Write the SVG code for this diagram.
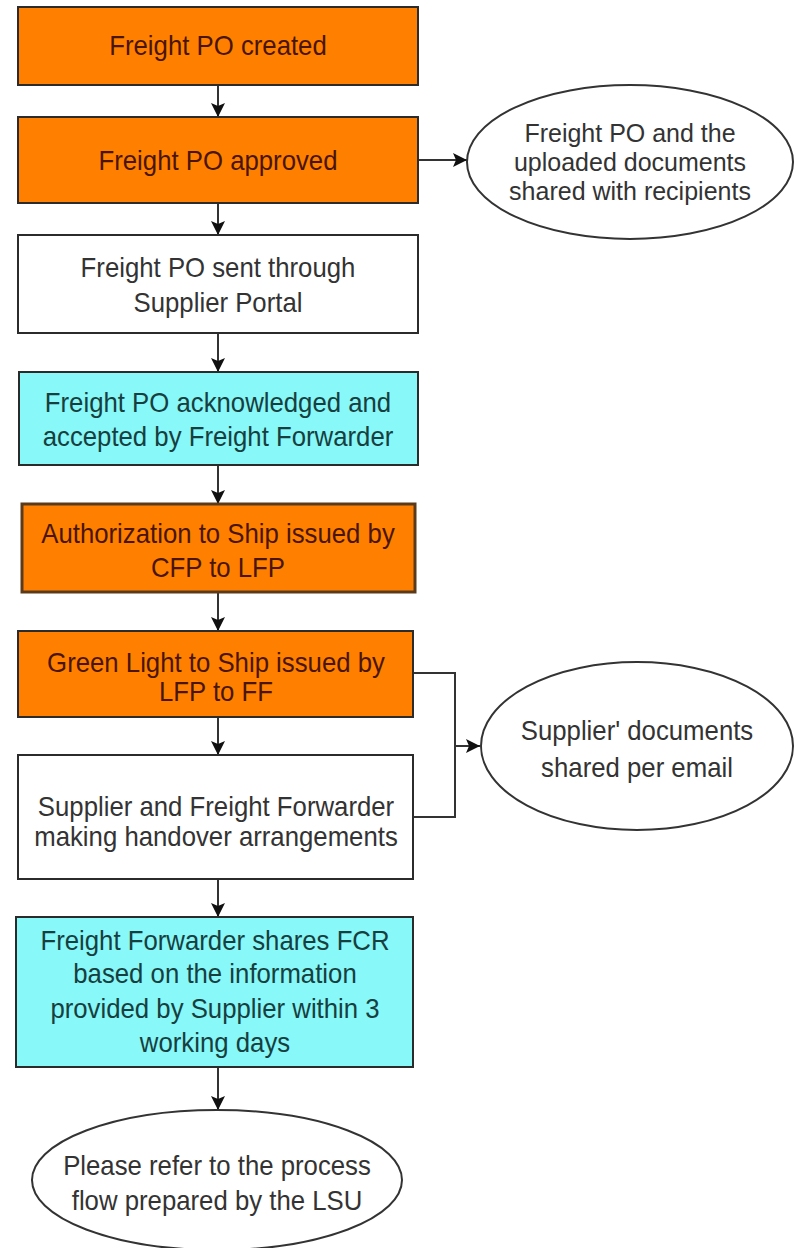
<svg xmlns="http://www.w3.org/2000/svg" width="794" height="1248" viewBox="0 0 794 1248">
  <style>
    .box { stroke: #2b2b2b; stroke-width: 2; }
    .orange { fill: #ff8000; }
    .cyan { fill: #88f8f8; }
    .white { fill: #ffffff; }
    .oval { fill: #ffffff; stroke: #333333; stroke-width: 2; }
    .lbl { font-family: "Liberation Sans", Arial, sans-serif; font-size: 28px; text-anchor: middle; }
    .sm { font-size: 25px; }
    .t-or { fill: #4a1500; }
    .t-cy { fill: #173f3f; }
    .t-wh { fill: #333333; }
    .edge { fill: none; stroke: #333333; stroke-width: 2; }
  </style>
  <defs>
    <marker id="head" viewBox="0 0 14 14" refX="14" refY="7" markerWidth="14" markerHeight="14" markerUnits="userSpaceOnUse" orient="auto">
      <path d="M0,0 L14,7 L0,14 L3,7 z" fill="#111111"/>
    </marker>
  </defs>
  <rect width="794" height="1248" fill="#ffffff"/>

  <!-- connectors -->
  <g id="connectors">
    <path class="edge" d="M218,85 V117" marker-end="url(#head)"/>
    <path class="edge" d="M218,203 V235" marker-end="url(#head)"/>
    <path class="edge" d="M418,160 H467" marker-end="url(#head)"/>
    <path class="edge" d="M218,333 V372" marker-end="url(#head)"/>
    <path class="edge" d="M218,465 V504" marker-end="url(#head)"/>
    <path class="edge" d="M218,592 V631" marker-end="url(#head)"/>
    <path class="edge" d="M218,717 V755" marker-end="url(#head)"/>
    <path class="edge" d="M218,879 V917" marker-end="url(#head)"/>
    <path class="edge" d="M218,1067 V1110" marker-end="url(#head)"/>
    <!-- two steps feeding the document-sharing note -->
    <path class="edge" d="M413,673 H455 V817 H413"/>
    <path class="edge" d="M455,746 H480" marker-end="url(#head)"/>
  </g>

  <g id="po-created">
    <rect class="box orange" x="18" y="7" width="400" height="78"/>
    <g transform="translate(218 0) scale(0.92 1)">
      <text class="lbl t-or" x="0" y="55">Freight PO created</text>
    </g>
  </g>

  <g id="po-approved">
    <rect class="box orange" x="18" y="117" width="400" height="86"/>
    <g transform="translate(218 0) scale(0.92 1)">
      <text class="lbl t-or" x="0" y="170">Freight PO approved</text>
    </g>
  </g>

  <g id="docs-shared">
    <ellipse class="oval" cx="630" cy="162" rx="163" ry="77"/>
    <text class="lbl sm t-wh" x="630" y="142">Freight PO and the</text>
    <text class="lbl sm t-wh" x="630" y="171">uploaded documents</text>
    <text class="lbl sm t-wh" x="630" y="200">shared with recipients</text>
  </g>

  <g id="po-sent">
    <rect class="box white" x="18" y="235" width="400" height="98"/>
    <g transform="translate(218 0) scale(0.92 1)">
      <text class="lbl t-wh" x="0" y="277">Freight PO sent through</text>
      <text class="lbl t-wh" x="0" y="312">Supplier Portal</text>
    </g>
  </g>

  <g id="po-acknowledged">
    <rect class="box cyan" x="19" y="372" width="399" height="93"/>
    <g transform="translate(218 0) scale(0.92 1)">
      <text class="lbl t-cy" x="0" y="412">Freight PO acknowledged and</text>
      <text class="lbl t-cy" x="0" y="446">accepted by Freight Forwarder</text>
    </g>
  </g>

  <g id="authorization">
    <rect class="box orange" x="22" y="504" width="393" height="88" style="stroke:#5a3a1a;stroke-width:3"/>
    <g transform="translate(218 0) scale(0.92 1)">
      <text class="lbl t-or" x="0" y="543">Authorization to Ship issued by</text>
      <text class="lbl t-or" x="0" y="577">CFP to LFP</text>
    </g>
  </g>

  <g id="green-light">
    <rect class="box orange" x="18" y="631" width="395" height="86"/>
    <g transform="translate(216 0) scale(0.92 1)">
      <text class="lbl t-or" x="0" y="672">Green Light to Ship issued by</text>
      <text class="lbl t-or" x="0" y="701">LFP to FF</text>
    </g>
  </g>

  <g id="handover">
    <rect class="box white" x="18" y="755" width="395" height="124"/>
    <g transform="translate(216 0) scale(0.92 1)">
      <text class="lbl t-wh" x="0" y="816">Supplier and Freight Forwarder</text>
      <text class="lbl t-wh" x="0" y="846">making handover arrangements</text>
    </g>
  </g>

  <g id="supplier-docs">
    <ellipse class="oval" cx="637" cy="746" rx="156" ry="84"/>
    <g transform="translate(637 0) scale(0.92 1)">
      <text class="lbl t-wh" x="0" y="740">Supplier' documents</text>
      <text class="lbl t-wh" x="0" y="777">shared per email</text>
    </g>
  </g>

  <g id="fcr">
    <rect class="box cyan" x="16" y="917" width="397" height="150"/>
    <g transform="translate(215 0) scale(0.92 1)">
      <text class="lbl t-cy" x="0" y="950">Freight Forwarder shares FCR</text>
      <text class="lbl t-cy" x="0" y="983">based on the information</text>
      <text class="lbl t-cy" x="0" y="1018">provided by Supplier within 3</text>
      <text class="lbl t-cy" x="0" y="1052">working days</text>
    </g>
  </g>

  <g id="lsu-flow">
    <ellipse class="oval" cx="217" cy="1180" rx="185" ry="70"/>
    <g transform="translate(217 0) scale(0.92 1)">
      <text class="lbl t-wh" x="0" y="1175">Please refer to the process</text>
      <text class="lbl t-wh" x="0" y="1210">flow prepared by the LSU</text>
    </g>
  </g>
</svg>
